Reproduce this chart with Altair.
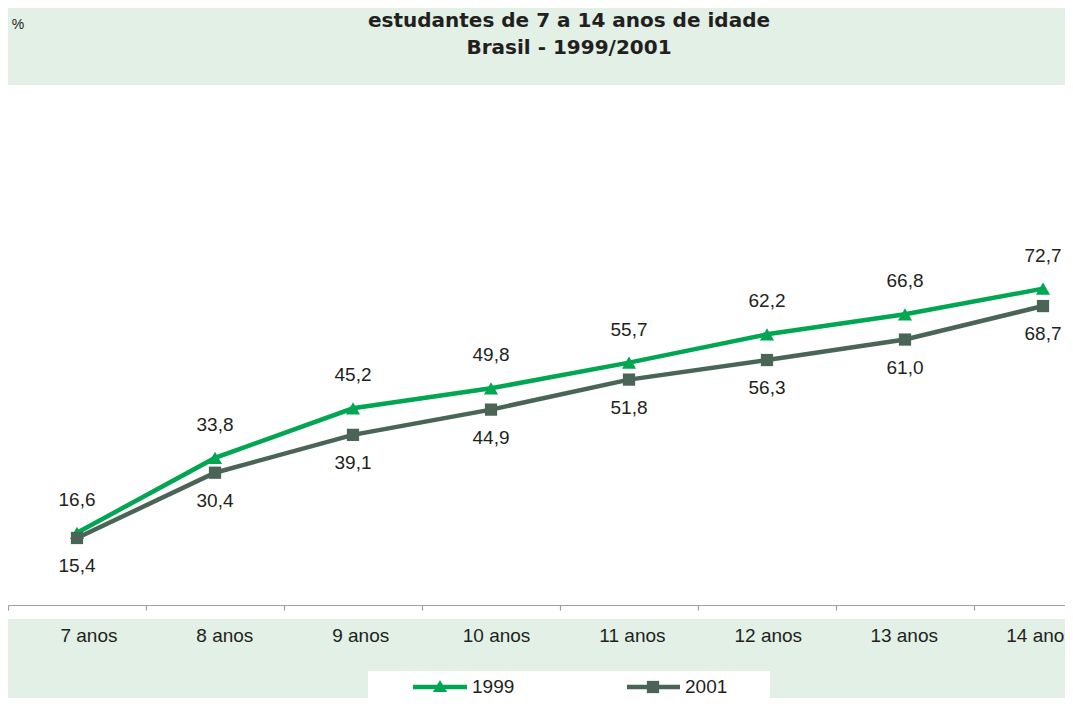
import altair as alt
import pandas as pd

ages = ["7 anos", "8 anos", "9 anos", "10 anos", "11 anos", "12 anos", "13 anos", "14 anos"]
v1999 = [16.6, 33.8, 45.2, 49.8, 55.7, 62.2, 66.8, 72.7]
v2001 = [15.4, 30.4, 39.1, 44.9, 51.8, 56.3, 61.0, 68.7]
series = ["1999", "2001"]
title_lines = ["estudantes de 7 a 14 anos de idade", "Brasil - 1999/2001"]

GREEN = "#00a651"
GRAY = "#4a6556"
TXT = "#231f20"
BG = "#e2f0e6"
FONT = "Liberation Sans"
TFONT = "DejaVu Sans"

W, H = 1057, 520

def fmt(v):
    return f"{v:.1f}".replace(".", ",")

d1 = pd.DataFrame({"age": ages, "v": v1999, "lab": [fmt(v) for v in v1999]})
d2 = pd.DataFrame({"age": ages, "v": v2001, "lab": [fmt(v) for v in v2001]})
dl = pd.DataFrame({"age": ages})
one = pd.DataFrame({"a": [0]})

xs = alt.Scale(type="band", domain=ages, range=[0, 1104], paddingInner=0, paddingOuter=0)
ys = alt.Scale(domain=[0, 119.5], nice=False, zero=True)

X = alt.X("age:N", scale=xs, sort=ages,
          axis=alt.Axis(title=None, labels=False, tickBand="extent", grid=False,
                        domainColor="#a0a0a0", tickColor="#a0a0a0", tickSize=5,
                        domainWidth=1.2, tickWidth=1.2, zindex=1))
Y = alt.Y("v:Q", scale=ys, axis=None)

bg = alt.Chart(one).mark_rect(color="white").encode(
    x=alt.value(0), x2=alt.value(1120), y=alt.value(0), y2=alt.value(534))

line99 = alt.Chart(d1).mark_line(color=GREEN, strokeWidth=4.5).encode(x=X, y=Y)
pt99 = alt.Chart(d1).mark_point(shape="triangle-up", filled=True, opacity=1,
                               color=GREEN, size=200).encode(x=X, y=Y)
line01 = alt.Chart(d2).mark_line(color=GRAY, strokeWidth=4.5).encode(x=X, y=Y)
pt01 = alt.Chart(d2).mark_point(shape="square", filled=True, opacity=1,
                               color=GRAY, size=150).encode(x=X, y=Y)
txt99 = alt.Chart(d1).mark_text(dy=-33, fontSize=19, font=FONT, color=TXT,
                               baseline="middle").encode(x=X, y=Y, text="lab:N")
txt01 = alt.Chart(d2).mark_text(dy=28, fontSize=19, font=FONT, color=TXT,
                               baseline="middle").encode(x=X, y=Y, text="lab:N")

main = alt.layer(bg, line99, line01, pt99, pt01, txt99, txt01)

# category labels (spaced slightly tighter than the points, as in the source)
xl = alt.Scale(type="band", domain=ages, range=[13, 1100], paddingInner=0, paddingOuter=0)
catlab = alt.Chart(dl).mark_text(fontSize=19, font=FONT, color=TXT,
                                 baseline="alphabetic").encode(
    x=alt.X("age:N", scale=xl, sort=ages, axis=None),
    y=alt.value(557), text="age:N")

t1 = alt.Chart(one).mark_text(fontSize=20, font=TFONT, fontWeight="bold", color=TXT,
                              baseline="alphabetic", text=title_lines[0]).encode(
    x=alt.value(561), y=alt.value(-58.5))
t2 = alt.Chart(one).mark_text(fontSize=20, font=TFONT, fontWeight="bold", color=TXT,
                              baseline="alphabetic", text=title_lines[1]).encode(
    x=alt.value(561), y=alt.value(-31))
pct = alt.Chart(one).mark_text(fontSize=14, font=FONT, color=TXT,
                               baseline="middle", text="%").encode(
    x=alt.value(10), y=alt.value(-60))

# legend
leg_bg = alt.Chart(one).mark_rect(color="white").encode(
    x=alt.value(360), x2=alt.value(762), y=alt.value(586), y2=alt.value(640))
leg_l1 = alt.Chart(one).mark_rule(color=GREEN, strokeWidth=4.5).encode(
    x=alt.value(405), x2=alt.value(459), y=alt.value(602))
leg_p1 = alt.Chart(one).mark_point(shape="triangle-up", filled=True, opacity=1,
                                   color=GREEN, size=200).encode(
    x=alt.value(432), y=alt.value(601))
leg_t1 = alt.Chart(one).mark_text(fontSize=19, font=FONT, color=TXT, align="left",
                                  baseline="middle", text=series[0]).encode(
    x=alt.value(464), y=alt.value(602))
leg_l2 = alt.Chart(one).mark_rule(color=GRAY, strokeWidth=4.5).encode(
    x=alt.value(619), x2=alt.value(672), y=alt.value(602))
leg_p2 = alt.Chart(one).mark_point(shape="square", filled=True, opacity=1,
                                   color=GRAY, size=150).encode(
    x=alt.value(645), y=alt.value(602))
leg_t2 = alt.Chart(one).mark_text(fontSize=19, font=FONT, color=TXT, align="left",
                                  baseline="middle", text=series[1]).encode(
    x=alt.value(677), y=alt.value(602))

chart = alt.layer(
    main, catlab, t1, t2, pct,
    leg_bg, leg_l1, leg_p1, leg_t1, leg_l2, leg_p2, leg_t2
).resolve_scale(x="independent").properties(
    width=W, height=H,
    autosize=alt.AutoSizeParams(type="none"),
    padding={"left": 0, "top": 77, "right": 0, "bottom": 93},
    background=BG,
).configure_view(stroke=None, fill=None)

chart.save("out.html", embed_options={"renderer": "svg", "actions": False})
